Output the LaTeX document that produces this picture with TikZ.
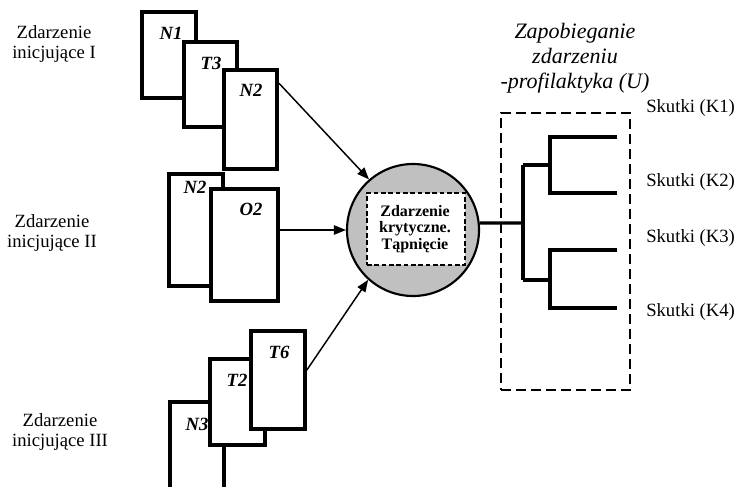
\documentclass[tikz,border=0pt]{standalone}
\usepackage{fontspec}
\setmainfont{Liberation Serif}
\usetikzlibrary{fit,arrows.meta}
\definecolor{circfill}{RGB}{192,192,192}
\tikzset{
  card/.style={draw, fill=white, line width=2.8pt, inner sep=0pt},
  cardlbl/.style={font=\fontsize{14}{16}\selectfont\bfseries\itshape, inner sep=0pt},
  sidelbl/.style={font=\fontsize{14}{15.5}\selectfont, align=center, inner sep=0pt},
  reslbl/.style={font=\fontsize{14}{15.5}\selectfont, anchor=west, inner sep=0pt},
  arr/.style={line width=1.1pt, -{Triangle[length=9pt,width=7pt]}},
  treeline/.style={line width=2.5pt},
}
\begin{document}
\begin{tikzpicture}[x=0.75pt,y=-0.75pt]
\useasboundingbox (0,0) rectangle (738,486);
\fill[white] (0,0) rectangle (738,486);
% left labels
\node[sidelbl] (ev1) at (54,44) {Zdarzenie\\inicjujące I};
\node[sidelbl] (ev2) at (52,233) {Zdarzenie\\inicjujące II};
\node[sidelbl] (ev3) at (60,432) {Zdarzenie\\inicjujące III};
% group 1
\node[card, fit={(142,12) (196,98)}] (n1) {};
\node[card, fit={(184,42) (237,127)}] (t3) {};
\node[card, fit={(224,70) (277,169)}] (n2a) {};
\node[cardlbl] (ln1) at (171,33) {N1};
\node[cardlbl] (lt3) at (211,63) {T3};
\node[cardlbl] (ln2a) at (251,90) {N2};
% group 2
\node[card, fit={(169,174) (223,286)}] (n2b) {};
\node[card, fit={(211,189) (278,301)}] (o2) {};
\node[cardlbl] (ln2b) at (195,187) {N2};
\node[cardlbl] (lo2) at (251,209) {O2};
% group 3
\node[card, fit={(170,402) (224,520)}] (n3) {};
\node[card, fit={(210,359) (265,445)}] (t2) {};
\node[card, fit={(251,331) (305,429)}] (t6) {};
\node[cardlbl] (lt6) at (279,352) {T6};
\node[cardlbl] (lt2) at (237,380) {T2};
\node[cardlbl] (ln3) at (197,424) {N3};
% tree
\coordinate (tr) at (523,223);
\coordinate (tt) at (523,165);
\coordinate (tb) at (523,280);
\coordinate (ft) at (550,165);
\coordinate (fb) at (550,280);
\coordinate (k1) at (617,137);
\coordinate (k2) at (617,193);
\coordinate (k3) at (617,250);
\coordinate (k4) at (617,308);
% circle
\node[circle, draw, line width=1.6pt, fill=circfill, minimum size=99pt, inner sep=0pt] (circ) at (413,230) {};
\node[draw, dashed, dash pattern=on 3.5pt off 2pt, line width=1.2pt, fill=white, inner sep=0pt, fit={(367,193) (465,265)}] (crit) {};
\node[font=\fontsize{12}{12.6}\selectfont\bfseries, align=center, inner sep=0pt] (critlbl) at (415,229) {Zdarzenie\\krytyczne.\\Tąpnięcie};
\draw[treeline] (circ.6) -- (tr);
\draw[treeline] (tt) -- (tb);
\draw[treeline] (tt) -- (ft);
\draw[treeline] (tb) -- (fb);
\draw[treeline] (k1) -| (ft) |- (k2);
\draw[treeline] (k3) -| (fb) |- (k4);
% dashed frame
\node[draw, dash pattern=on 7.5pt off 3.75pt, line width=1.1pt, inner sep=0pt, fit={(501,113) (630,390)}] (prev) {};
\node[font=\fontsize{16.5}{18.75}\selectfont\itshape, align=center, inner sep=0pt] (title) at (575,58) {Zapobieganie\\zdarzeniu\\-profilaktyka (U)};
\node[reslbl] (s1) at (646,108) {Skutki (K1)};
\node[reslbl] (s2) at (646,182) {Skutki (K2)};
\node[reslbl] (s3) at (646,238) {Skutki (K3)};
\node[reslbl] (s4) at (646,312) {Skutki (K4)};
% arrows
\draw[arr] ([yshift=-11.25pt]n2a.north east) -- (circ.131);
\draw[arr] ([yshift=11.25pt]o2.east) -- (circ.west);
\draw[arr] ([yshift=7.5pt]t6.east) -- (circ.228);
\end{tikzpicture}
\end{document}
